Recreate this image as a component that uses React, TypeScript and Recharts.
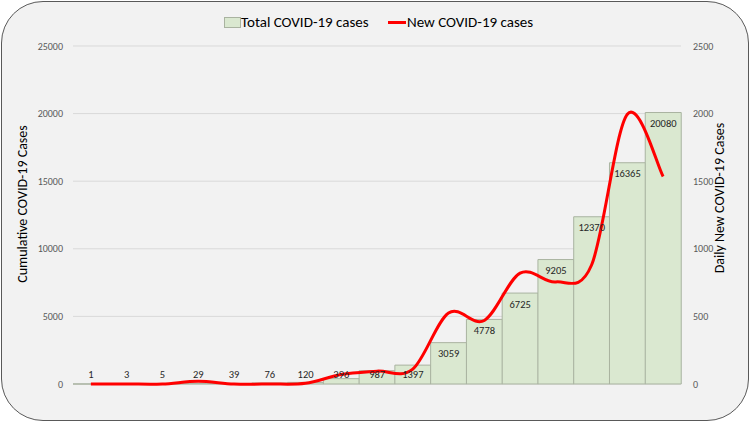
import React from 'react';
import { ComposedChart, Bar, Line, XAxis, YAxis, CartesianGrid, LabelList } from 'recharts';

const totalCases = [1, 3, 5, 29, 39, 76, 120, 396, 987, 1397, 3059, 4778, 6725, 9205, 12370, 16365, 20080];
const newCases = [0, 0, 0, 20, 0, 0, 5, 70, 95, 110, 525, 470, 820, 755, 880, 1995, 1535];
const leftTicks = [0, 5000, 10000, 15000, 20000, 25000];
const rightTicks = [0, 500, 1000, 1500, 2000, 2500];

const data = totalCases.map((t, i) => ({ period: `P${i + 1}`, total: t, daily: newCases[i] }));

const FONT = 'Carlito, Lato, "Open Sans", sans-serif';

// Excel-like smooth line (Catmull-Rom through points)
const excelCurve = (context: any) => {
  let pts: number[][] = [];
  return {
    areaStart() {},
    areaEnd() {},
    lineStart() { pts = []; },
    point(x: number, y: number) { pts.push([+x, +y]); },
    lineEnd() {
      if (!pts.length) return;
      context.moveTo(pts[0][0], pts[0][1]);
      for (let i = 0; i < pts.length - 1; i++) {
        const p0 = pts[i - 1] || pts[i];
        const p1 = pts[i];
        const p2 = pts[i + 1];
        const p3 = pts[i + 2] || p2;
        context.bezierCurveTo(
          p1[0] + (p2[0] - p0[0]) / 6, p1[1] + (p2[1] - p0[1]) / 6,
          p2[0] - (p3[0] - p1[0]) / 6, p2[1] - (p3[1] - p1[1]) / 6,
          p2[0], p2[1]
        );
      }
    },
  };
};

const BarLabel = (props: any) => {
  const { x, y, width, value } = props;
  const cy = Math.min(Number(y) + 11, 374);
  return (
    <text x={Number(x) + Number(width) / 2} y={cy} textAnchor="middle" dominantBaseline="central"
      fontSize={10.5} fill="#262626" fontFamily={FONT}>{value}</text>
  );
};

export default function App() {
  return (
    <div style={{ position: 'absolute', left: 0, top: 0, width: 750, height: 422, background: '#fff' }}>
      <div style={{ position: 'absolute', left: 1, top: 1, width: 746, height: 418, border: '1.5px solid #595959', borderRadius: 42, background: '#f2f2f2' }} />
      <div style={{ position: 'absolute', left: 0, top: 0 }}>
        <ComposedChart width={750} height={422} data={data} margin={{ top: 46, right: 0, bottom: 38, left: 0 }}
          barCategoryGap={0} barGap={0}>
          <CartesianGrid vertical={false} stroke="#d9d9d9" yAxisId="left" />
          <XAxis dataKey="period" tick={false} tickLine={false} height={0} axisLine={{ stroke: '#a6a6a6' }}
            label={{ content: () => (
              <text x={389} y={406} textAnchor="middle" dominantBaseline="central" fontSize={15} fill="#000" fontFamily={FONT}>
                COVID-19 Data of India from 30 January to 21 April 2020
              </text>
            ) }} />
          <YAxis yAxisId="left" width={73} domain={[0, 25000]} ticks={leftTicks} axisLine={false} tickLine={false}
            tickSize={0} tickMargin={10} tick={{ fontSize: 10, fill: '#595959', fontFamily: FONT }}
            label={{ content: () => (
              <text x={22} y={204} transform="rotate(-90 22 204)" textAnchor="middle" dominantBaseline="central"
                fontSize={14} fill="#000" fontFamily={FONT}>Cumulative COVID-19 Cases</text>
            ) }} />
          <YAxis yAxisId="right" orientation="right" width={69} domain={[0, 2500]} ticks={rightTicks} axisLine={false}
            tickLine={false} tickSize={0} tickMargin={12} tick={{ fontSize: 10, fill: '#595959', fontFamily: FONT, textAnchor: 'start' }}
            label={{ content: () => (
              <text x={719} y={198} transform="rotate(-90 719 198)" textAnchor="middle" dominantBaseline="central"
                fontSize={14} fill="#000" fontFamily={FONT}>Daily New COVID-19 Cases</text>
            ) }} />
          <Bar yAxisId="left" dataKey="total" fill="#dae8d0" stroke="#a9b3a0" strokeWidth={1} isAnimationActive={false}>
            <LabelList dataKey="total" content={BarLabel} />
          </Bar>
          <Line yAxisId="right" dataKey="daily" type={excelCurve as any} stroke="#ff0000" strokeWidth={3} dot={false}
            activeDot={false} isAnimationActive={false} />
        </ComposedChart>
      </div>
      <div style={{ position: 'absolute', top: 0, left: 0, width: 750, height: 44, fontFamily: FONT, fontSize: 15, color: '#000' }}>
        <span style={{ position: 'absolute', left: 224, top: 17, width: 15, height: 9, background: '#dae8d0', border: '1px solid #a9b3a0' }} />
        <span style={{ position: 'absolute', left: 241, top: 12, whiteSpace: 'nowrap', lineHeight: '20px' }}>Total COVID-19 cases</span>
        <span style={{ position: 'absolute', left: 388, top: 21, width: 18, height: 3, background: '#ff0000' }} />
        <span style={{ position: 'absolute', left: 407, top: 12, whiteSpace: 'nowrap', lineHeight: '20px' }}>New COVID-19 cases</span>
      </div>
    </div>
  );
}
